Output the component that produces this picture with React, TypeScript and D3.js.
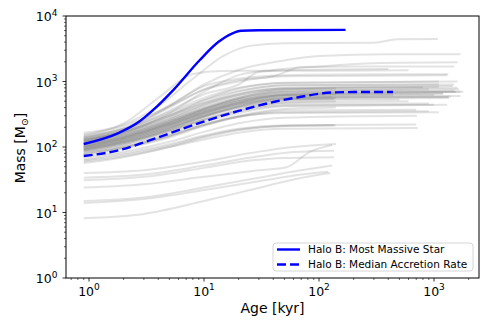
import * as d3 from 'd3';

// axis ranges and ticks
const X_DOMAIN: [number, number] = [0.631, 2460];
const Y_DOMAIN: [number, number] = [1, 10000];
const X_MAJOR = [1, 10, 100, 1000];
const Y_MAJOR = [1, 10, 100, 1000, 10000];

// Halo B highlighted curves, [age kyr, mass Msun]
const MOST_MASSIVE: [number, number][] = [
  [0.9, 111], [1.8, 163], [2.7, 240], [3.6, 365], [5.4, 740], [9.2, 2130],
  [13.3, 4000], [17.5, 5400], [21, 5950], [30, 6050], [170, 6150],
];
const MEDIAN_RATE: [number, number][] = [
  [0.9, 73], [1.86, 90], [3.4, 127], [9.2, 234], [20, 355], [41, 490],
  [68, 580], [130, 680], [200, 690], [440, 690],
];

// individual sink tracks (grey)
const HIGH_TRACKS: [number, number][][] = [
  [[0.9, 165], [2, 220], [4, 420], [8, 1100], [15, 2500], [25, 3500], [50, 3850], [300, 3900], [480, 4400], [1080, 4450]],
  [[0.9, 135], [2, 180], [5, 420], [10, 900], [20, 1500], [50, 2100], [100, 2450], [400, 2600], [1700, 2600]],
  [[0.9, 125], [2, 165], [5, 330], [10, 700], [20, 1250], [40, 1500], [100, 1700], [300, 1900], [1600, 1960]],
  [[0.9, 155], [2, 230], [4, 560], [8, 1300], [14, 1450], [100, 1460], [600, 1480]],
  [[0.9, 145], [2, 195], [5, 430], [10, 850], [20, 1100], [50, 1250], [150, 1280], [1330, 1290]],
  [[0.9, 140], [2, 190], [5, 400], [10, 760], [20, 1050], [40, 1200], [70, 1650], [200, 1700], [1500, 1700]],
  [[0.9, 130], [2, 175], [5, 360], [10, 640], [20, 900], [30, 1400], [60, 1500], [400, 1550]],
];

const MAIN_TRACKS: [number, number][][] = [
  [[0.9, 110], [2, 140], [5, 220], [10, 330], [20, 450], [50, 560], [1700, 600]],
  [[0.9, 100], [2, 130], [5, 210], [10, 320], [20, 460], [50, 600], [440, 620]],
  [[0.9, 95], [2, 120], [5, 190], [10, 290], [20, 420], [50, 560], [1330, 580]],
  [[0.9, 120], [2, 160], [5, 260], [10, 400], [20, 560], [50, 700], [1500, 720]],
  [[0.9, 105], [2, 140], [5, 240], [10, 380], [20, 560], [50, 760], [1600, 800]],
  [[0.9, 90], [2, 115], [5, 180], [10, 260], [20, 360], [50, 450], [900, 460]],
  [[0.9, 85], [2, 105], [5, 160], [10, 240], [20, 330], [50, 420], [1300, 440]],
  [[0.9, 130], [2, 170], [5, 300], [10, 480], [20, 700], [50, 880], [1100, 910]],
  [[0.9, 100], [2, 130], [5, 200], [10, 300], [20, 400], [50, 480], [140, 500]],
  [[0.9, 115], [2, 150], [5, 240], [10, 360], [20, 500], [50, 620], [140, 640]],
  [[0.9, 80], [2, 100], [5, 150], [10, 220], [20, 300], [50, 380], [140, 400]],
  [[0.9, 75], [2, 95], [5, 140], [10, 210], [20, 290], [50, 360], [700, 370]],
  [[0.9, 140], [2, 190], [5, 340], [10, 560], [20, 800], [50, 950], [1600, 1000]],
  [[0.9, 125], [2, 165], [5, 280], [10, 450], [20, 650], [50, 800], [1450, 850]],
  [[0.9, 110], [2, 145], [5, 230], [10, 350], [20, 480], [50, 600], [1000, 620]],
  [[0.9, 95], [2, 125], [5, 200], [10, 310], [20, 440], [50, 560], [130, 580]],
  [[0.9, 88], [2, 110], [5, 170], [10, 260], [20, 370], [50, 480], [600, 500]],
  [[0.9, 70], [2, 85], [5, 120], [10, 170], [20, 230], [50, 280], [710, 300]],
  [[0.9, 65], [2, 80], [5, 110], [10, 150], [20, 190], [50, 215], [700, 220]],
  [[0.9, 60], [2, 72], [5, 100], [10, 130], [20, 165], [50, 190], [720, 195]],
  [[0.9, 57], [2, 70], [5, 100], [10, 140], [20, 180], [50, 210], [140, 215]],
  [[0.9, 62], [2, 76], [5, 105], [10, 145], [20, 185], [50, 210], [135, 215]],
  [[0.9, 150], [2, 210], [5, 420], [10, 750], [20, 1000], [50, 1200], [1300, 1250]],
  [[0.9, 135], [2, 180], [5, 320], [10, 520], [20, 720], [50, 880], [1500, 900]],
  [[0.9, 100], [2, 135], [5, 230], [10, 370], [20, 540], [50, 680], [1800, 700]],
  [[0.9, 90], [2, 120], [5, 190], [10, 300], [20, 420], [50, 520], [500, 530]],
  [[0.9, 105], [2, 140], [5, 220], [10, 340], [20, 460], [50, 570], [1400, 590]],
  [[0.9, 118], [2, 155], [5, 250], [10, 380], [20, 520], [50, 640], [1200, 660]],
  [[0.9, 82], [2, 100], [5, 150], [10, 220], [20, 290], [50, 340], [900, 350]],
  [[0.9, 78], [2, 98], [5, 145], [10, 215], [20, 290], [50, 330], [1100, 340]],
  [[0.9, 92], [2, 118], [5, 175], [10, 260], [20, 350], [50, 430], [1000, 440]],
  [[0.9, 125], [2, 170], [5, 300], [10, 520], [20, 780], [50, 960], [1100, 1000]],
  [[0.9, 112], [2, 150], [5, 260], [10, 420], [20, 600], [50, 750], [140, 780]],
  [[0.9, 98], [2, 128], [5, 215], [10, 340], [20, 500], [50, 640], [140, 680]],
  [[0.9, 86], [2, 110], [5, 180], [10, 280], [20, 400], [50, 510], [135, 540]],
  [[0.9, 108], [2, 142], [5, 235], [10, 370], [20, 530], [50, 700], [900, 760]],
  [[0.9, 102], [2, 132], [5, 215], [10, 330], [20, 470], [50, 620], [1700, 700]],
  [[0.9, 128], [2, 172], [5, 300], [10, 470], [20, 640], [50, 780], [800, 820]],
  [[0.9, 96], [2, 124], [5, 205], [10, 320], [20, 470], [50, 610], [1200, 650]],
  [[0.9, 104], [2, 136], [5, 225], [10, 350], [20, 500], [50, 650], [1550, 690]],
  [[0.9, 89], [2, 114], [5, 185], [10, 290], [20, 410], [50, 530], [140, 560]],
  [[0.9, 116], [2, 152], [5, 250], [10, 390], [20, 560], [50, 720], [1650, 760]],
  [[0.9, 93], [2, 120], [5, 195], [10, 300], [20, 430], [50, 540], [1350, 560]],
  [[0.9, 122], [2, 162], [5, 275], [10, 440], [20, 620], [50, 780], [1100, 830]],
];

const LOW_TRACKS: [number, number][][] = [
  [[0.9, 40], [3, 44], [10, 60], [30, 85], [60, 100], [140, 111]],
  [[0.9, 34], [3, 38], [10, 52], [30, 72], [60, 84], [135, 88]],
  [[0.9, 31], [3, 35], [10, 48], [25, 62], [50, 68], [135, 70]],
  [[0.9, 24], [3, 27], [10, 35], [30, 44], [52, 49], [83, 84], [130, 107]],
  [[0.9, 15], [3, 17], [10, 24], [30, 34], [70, 44], [130, 52]],
  [[0.9, 14], [3, 16], [10, 22], [30, 30], [70, 38], [120, 42]],
  [[0.9, 8.2], [3, 9.5], [10, 15], [25, 22], [60, 32], [125, 40]],
];

export default function App() {
  const W = 490;
  const H = 327;
  const left = 66, right = 479, top = 16, bottom = 278;
  const font = 'DejaVu Sans, sans-serif';

  const x = d3.scaleLog().domain(X_DOMAIN).range([left, right]);
  const y = d3.scaleLog().domain(Y_DOMAIN).range([bottom, top]);

  const line = d3
    .line<[number, number]>()
    .x(d => x(d[0]))
    .y(d => y(d[1]))
    .curve(d3.curveMonotoneX);

  const isMajor = (v: number) => Math.abs(Math.log10(v) - Math.round(Math.log10(v))) < 1e-6;
  const xMinor = x.ticks().filter(v => !isMajor(v));
  const yMinor = y.ticks().filter(v => !isMajor(v));

  const grey = [...LOW_TRACKS, ...MAIN_TRACKS, ...HIGH_TRACKS];

  return (
    <svg width={W} height={H} style={{ position: 'absolute', left: 0, top: 0 }} fontFamily={font}>
      <rect width={W} height={H} fill="white" />

      {grey.map((t, i) => (
        <path key={i} d={line(t) ?? ''} fill="none" stroke="#808080" strokeOpacity={0.22} strokeWidth={2} />
      ))}

      <path d={line(MOST_MASSIVE) ?? ''} fill="none" stroke="#0000ff" strokeWidth={2.4} />
      <path d={line(MEDIAN_RATE) ?? ''} fill="none" stroke="#0000ff" strokeWidth={2.4} strokeDasharray="9,4" />

      {/* frame */}
      <rect x={left} y={top} width={right - left} height={bottom - top} fill="none" stroke="black" strokeWidth={1} />

      {/* x ticks */}
      {xMinor.map(v => (
        <line key={'xm' + v} x1={x(v)} x2={x(v)} y1={bottom} y2={bottom + 2} stroke="black" strokeWidth={0.6} />
      ))}
      {X_MAJOR.map(v => (
        <g key={'xM' + v}>
          <line x1={x(v)} x2={x(v)} y1={bottom} y2={bottom + 3.5} stroke="black" strokeWidth={0.8} />
          <text x={x(v)} y={295.5} textAnchor="middle" fontSize={12.5}>
            10<tspan dy={-5.5} fontSize={9}>{Math.round(Math.log10(v))}</tspan>
          </text>
        </g>
      ))}

      {/* y ticks */}
      {yMinor.map(v => (
        <line key={'ym' + v} x1={left - 2} x2={left} y1={y(v)} y2={y(v)} stroke="black" strokeWidth={0.6} />
      ))}
      {Y_MAJOR.map(v => (
        <g key={'yM' + v}>
          <line x1={left - 3.5} x2={left} y1={y(v)} y2={y(v)} stroke="black" strokeWidth={0.8} />
          <text x={57.5} y={y(v) + 5} textAnchor="end" fontSize={12.5}>
            10<tspan dy={-5.5} fontSize={9}>{Math.round(Math.log10(v))}</tspan>
          </text>
        </g>
      ))}

      {/* axis labels */}
      <text x={(left + right) / 2} y={313} textAnchor="middle" fontSize={14}>Age [kyr]</text>
      <text transform={`translate(25,148) rotate(-90)`} textAnchor="middle" fontSize={14}>
        Mass [M<tspan fontSize={9.5} dy={3}>⊙</tspan><tspan dy={-3}>]</tspan>
      </text>

      {/* legend */}
      <g>
        <rect x={273} y={243} width={200} height={28} rx={3} fill="white" fillOpacity={0.8} stroke="#cccccc" strokeWidth={0.8} />
        <line x1={277} x2={300} y1={249.5} y2={249.5} stroke="#0000ff" strokeWidth={2.4} />
        <text x={308} y={253} fontSize={10.5}>Halo B: Most Massive Star</text>
        <line x1={277} x2={300} y1={264.5} y2={264.5} stroke="#0000ff" strokeWidth={2.4} strokeDasharray="9,4" />
        <text x={308} y={268} fontSize={10.5}>Halo B: Median Accretion Rate</text>
      </g>
    </svg>
  );
}
